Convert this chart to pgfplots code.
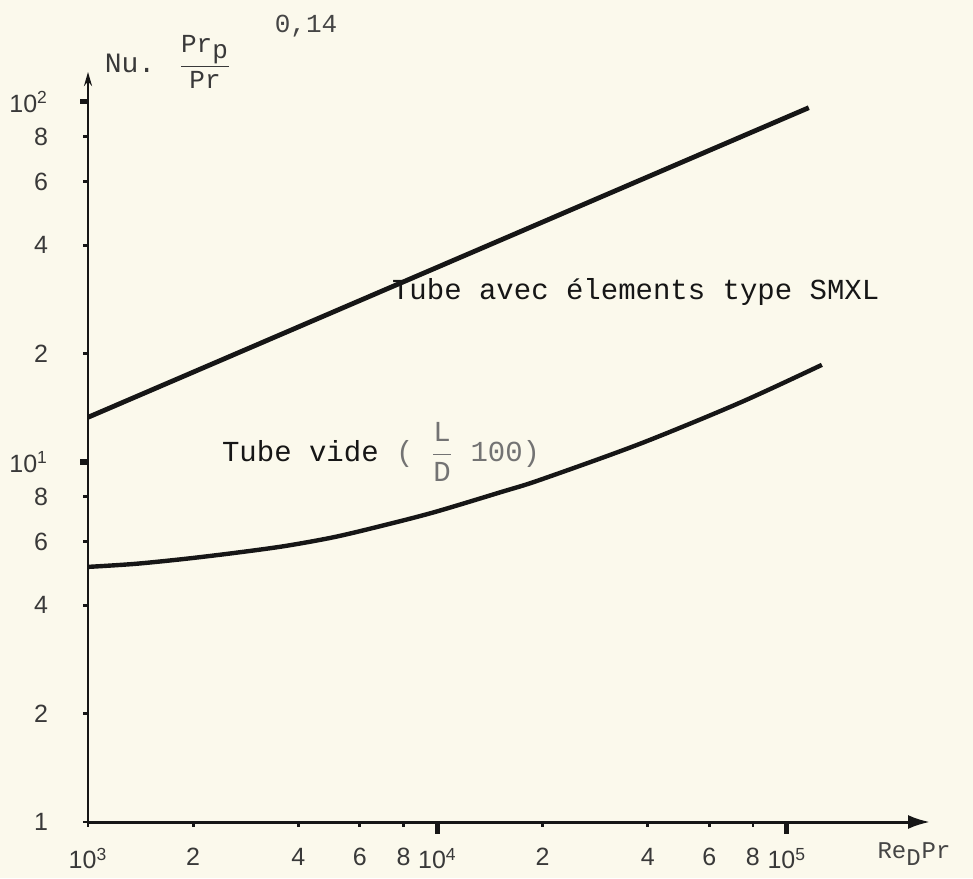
\documentclass[border=0pt]{standalone}
\usepackage{fontspec}
\setmainfont{Liberation Mono}
\newfontfamily\hand{Liberation Sans}
\usepackage{pgfplots}
\pgfplotsset{compat=1.18}
\usetikzlibrary{arrows.meta}
\definecolor{paper}{RGB}{251,249,236}
\definecolor{ink}{RGB}{22,22,22}
\begin{document}
\begin{tikzpicture}[x=1pt,y=1pt]
\fill[paper] (0,0) rectangle (486.5,439);
\begin{axis}[
  at={(44pt,28pt)}, anchor=south west, scale only axis,
  width=421pt, height=375pt,
  xmode=log, ymode=log,
  xmin=1000, xmax=2.57e5, ymin=1, ymax=121,
  axis x line=bottom, axis y line=left,
  x axis line style={ink, line width=1.5pt, -{Latex[length=11pt,width=7pt]}},
  y axis line style={ink, line width=1.1pt, -{Stealth[length=7pt,width=4pt]}},
  xtick={1000,2000,4000,6000,8000,10000,20000,40000,60000,80000,100000},
  xticklabels={10\textsuperscript{3},2,4,6,8,10\textsuperscript{4},2,4,6,8,10\textsuperscript{5}},
  ytick={1,2,4,6,8,10,20,40,60,80,100},
  yticklabels={1,2,4,6,8,10\textsuperscript{1},2,4,6,8,10\textsuperscript{2}},
  minor tick num=0,
  log basis x=10, log basis y=10,
  tick align=outside, major tick length=2.5pt,
  tick style={ink, line width=1.4pt},
  ticklabel style={font=\hand\fontsize{12.5}{14}\selectfont, text=ink!85},
  xticklabel style={yshift=-7pt},
  yticklabel style={xshift=-14pt},
  extra x ticks={10000,100000}, extra x tick labels={},
  extra x tick style={major tick length=6pt, tick style={ink, line width=2.6pt}},
  extra y ticks={10,100}, extra y tick labels={},
  extra y tick style={major tick length=4pt, tick style={ink, line width=2.6pt}},
  clip=false,
]
\addplot[ink, line width=2.4pt] coordinates {(1000,13.3) (115600,96.3)};
\addplot[ink, line width=2.2pt, smooth] coordinates {
  (1000,5.11) (1362,5.21) (1897,5.38) (2636,5.59) (3664,5.84)
  (5093,6.19) (7079,6.68) (9840,7.26) (15300,8.26) (19640,8.91)
  (37940,11.22) (73400,14.6) (126000,18.6)};
\end{axis}
\node[anchor=west, font=\fontsize{14.5}{16}\selectfont, text=ink] at (192.5,293) {Tube avec élements type SMXL};
\node[anchor=west, font=\fontsize{14.5}{16}\selectfont, text=ink] at (107.5,213) {Tube vide \textcolor{ink!60}{( $\displaystyle\frac{\mbox{L}}{\mbox{D}}$ 100)}};
\node[font=\fontsize{14}{16}\selectfont, text=ink!85] at (65,407.5) {Nu.};
\node[font=\fontsize{13}{15}\selectfont, text=ink!85] at (102.5,408) {$\displaystyle\frac{\mbox{Pr}_{\mbox{p}}}{\mbox{Pr}}$};
\node[font=\fontsize{13}{15}\selectfont, text=ink!80] at (153,426) {0,14};
\node[font=\fontsize{12}{14}\selectfont, text=ink!80] at (457,12) {Re$_{\mbox{D}}$Pr};
\end{tikzpicture}
\end{document}
